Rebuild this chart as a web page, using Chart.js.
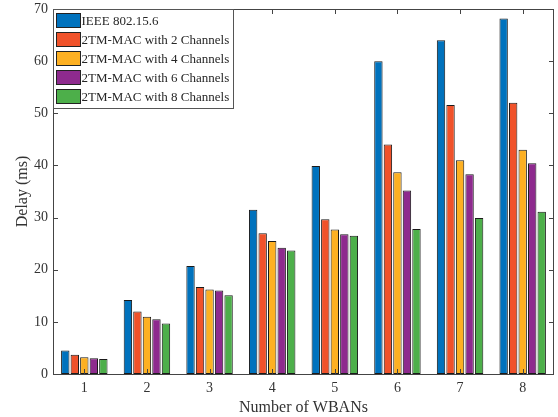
<!DOCTYPE html>
<html>
<head>
<meta charset="utf-8">
<script src="https://cdn.jsdelivr.net/npm/chart.js@4"></script>
<style>
  html, body { margin: 0; padding: 0; background: #fff; }
  #wrap { width: 558px; height: 417px; }
</style>
</head>
<body>
<div id="wrap"><canvas id="delayChart" width="558" height="417"></canvas></div>
<script>
const categories = ['1', '2', '3', '4', '5', '6', '7', '8'];
const seriesNames = [
  'IEEE 802.15.6',
  '2TM-MAC with 2 Channels',
  '2TM-MAC with 4 Channels',
  '2TM-MAC with 6 Channels',
  '2TM-MAC with 8 Channels'
];
const ieee = [4.5, 14.2, 20.7, 31.5, 39.9, 60.0, 64.0, 68.2];
const ch2 = [3.7, 12.0, 16.7, 27.0, 29.7, 44.0, 51.6, 52.0];
const ch4 = [3.2, 11.0, 16.2, 25.5, 27.7, 38.7, 41.0, 43.0];
const ch6 = [3.0, 10.5, 16.0, 24.2, 26.8, 35.2, 38.3, 40.4];
const ch8 = [2.9, 9.7, 15.1, 23.7, 26.5, 27.8, 29.9, 31.1];
const yTicks = [0, 10, 20, 30, 40, 50, 60, 70];

const colors = ['#0072BD', '#F0522A', '#FDB022', '#8E2A8E', '#4DAF4A'];
const allSeries = [ieee, ch2, ch4, ch6, ch8];
const axisColor = '#444444';
const font = 'Liberation Serif, Times New Roman, serif';

// box, inward ticks and in-plot legend like MATLAB
const matlabAxes = {
  id: 'matlabAxes',
  afterDraw(chart) {
    const { ctx, chartArea: a, scales } = chart;
    ctx.save();
    ctx.strokeStyle = axisColor;
    ctx.lineWidth = 1;
    ctx.strokeRect(Math.round(a.left) + 0.5, Math.round(a.top) + 0.5,
      Math.round(a.right - a.left) - 1, Math.round(a.bottom - a.top));
    const tl = 5;
    ctx.beginPath();
    scales.x.ticks.forEach((t, i) => {
      const x = Math.round(scales.x.getPixelForTick(i)) + 0.5;
      ctx.moveTo(x, a.bottom); ctx.lineTo(x, a.bottom - tl);
      ctx.moveTo(x, a.top); ctx.lineTo(x, a.top + tl);
    });
    scales.y.ticks.forEach(t => {
      const y = Math.round(scales.y.getPixelForValue(t.value)) + 0.5;
      ctx.moveTo(a.left, y); ctx.lineTo(a.left + tl, y);
      ctx.moveTo(a.right, y); ctx.lineTo(a.right - tl, y);
    });
    ctx.stroke();

    // legend
    const lx = Math.round(a.left) + 0.5, ly = Math.round(a.top) + 0.5;
    const lw = 180, lh = 99;
    ctx.fillStyle = '#fff';
    ctx.fillRect(lx, ly, lw, lh);
    ctx.strokeStyle = '#555';
    ctx.strokeRect(lx, ly, lw, lh);
    ctx.font = '13px ' + font;
    ctx.textBaseline = 'middle';
    seriesNames.forEach((name, i) => {
      const cy = ly + 11 + i * 19;
      ctx.fillStyle = colors[i];
      ctx.fillRect(lx + 3, cy - 7, 24, 14);
      ctx.strokeStyle = '#222';
      ctx.strokeRect(lx + 3, cy - 7, 24, 14);
      ctx.fillStyle = '#262626';
      ctx.fillText(name, lx + 28, cy + 1);
    });
    ctx.restore();
  }
};

new Chart(document.getElementById('delayChart'), {
  type: 'bar',
  data: {
    labels: categories,
    datasets: allSeries.map((vals, i) => ({
      label: seriesNames[i],
      data: vals,
      backgroundColor: colors[i],
      borderColor: '#1a1a1a',
      borderWidth: 1,
      borderSkipped: false,
      categoryPercentage: 0.76,
      barPercentage: 0.88
    }))
  },
  options: {
    responsive: false,
    animation: false,
    layout: { padding: { top: 9, right: 4, left: 0, bottom: 0 } },
    plugins: { legend: { display: false }, tooltip: { enabled: false } },
    scales: {
      x: {
        grid: { display: false, drawTicks: false },
        border: { display: false },
        ticks: { color: '#333', font: { family: font, size: 14 }, padding: 6 },
        title: { display: true, text: 'Number of WBANs', color: '#333',
          font: { family: font, size: 16 }, padding: { top: 0, bottom: 0 } },
        afterFit(s) { s.height = 43; s.paddingLeft = 0; s.paddingRight = 0; }
      },
      y: {
        min: 0, max: 70,
        grid: { display: false, drawTicks: false },
        border: { display: false },
        afterBuildTicks(s) { s.ticks = yTicks.map(v => ({ value: v })); },
        ticks: { color: '#333', font: { family: font, size: 14 }, padding: 5 },
        title: { display: true, text: 'Delay (ms)', color: '#333',
          font: { family: font, size: 16 }, padding: { top: 13, bottom: 0 } },
        afterFit(s) { s.width = 53; s.paddingTop = 0; s.paddingBottom = 0; }
      }
    }
  },
  plugins: [matlabAxes]
});
</script>
</body>
</html>
